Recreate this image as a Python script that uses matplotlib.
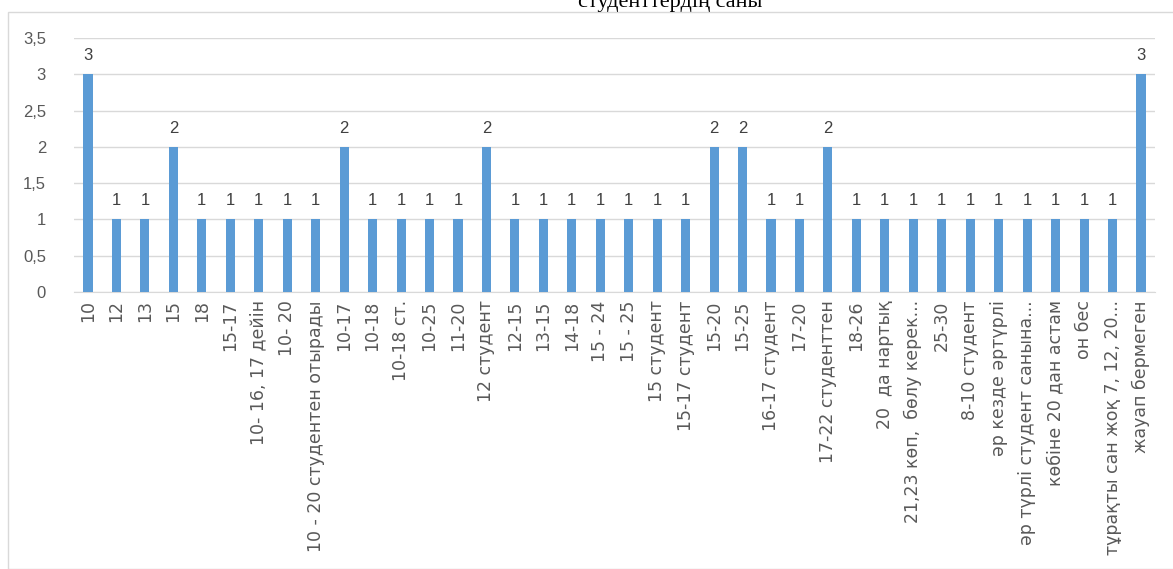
import matplotlib
matplotlib.use("Agg")
import matplotlib.pyplot as plt
from matplotlib.patches import Rectangle

categories = [
    "10", "12", "13", "15", "18", "15-17", "10- 16, 17 дейін", "10- 20",
    "10 - 20 студентен отырады", "10-17", "10-18", "10-18 ст.", "10-25", "11-20",
    "12 студент", "12-15", "13-15", "14-18", "15 - 24", "15 - 25", "15 студент",
    "15-17 студент", "15-20", "15-25", "16-17 студент", "17-20", "17-22 студенттен",
    "18-26", "20  да нартық", "21,23 көп,  бөлу керек...", "25-30", "8-10 студент",
    "әр кезде әртүрлі", "әр түрлі студент санына...", "көбіне 20 дан астам",
    "он бес", "тұрақты сан жоқ 7, 12, 20...", "жауап бермеген",
]
values = [3, 1, 1, 2, 1, 1, 1, 1, 1, 2, 1, 1, 1, 1, 2, 1, 1, 1, 1, 1, 1, 1,
          2, 2, 1, 1, 2, 1, 1, 1, 1, 1, 1, 1, 1, 1, 1, 3]
yticks = [0, 0.5, 1, 1.5, 2, 2.5, 3, 3.5]
ytick_labels = ["0", "0,5", "1", "1,5", "2", "2,5", "3", "3,5"]
title = "студенттердің саны"

plt.rcParams['font.family'] = ['Liberation Sans', 'DejaVu Sans']

W, H = 1173, 569
fig = plt.figure(figsize=(W / 100, H / 100), dpi=100)
fig.patches.append(Rectangle((8 / W, 0), 1.0, 1 - 12 / H, transform=fig.transFigure,
                             fill=False, edgecolor="#D9D9D9", linewidth=1.0))

ax = fig.add_axes([73.8 / W, 1 - 292 / H, (1155.2 - 73.8) / W, (292 - 38) / H])
x = list(range(len(categories)))
ax.bar(x, values, width=0.32, color="#5B9BD5", zorder=3)
ax.set_xlim(-0.5, len(categories) - 0.5)
ax.set_ylim(0, 3.5)
ax.set_yticks(yticks)
ax.set_yticklabels(ytick_labels, fontsize=12, color="#595959")
ax.set_xticks(x)
ax.set_xticklabels(categories, rotation=90, fontsize=12.5, color="#595959",
                   family=["DejaVu Sans"])
ax.tick_params(axis="both", length=0, pad=6)
ax.tick_params(axis="y", pad=20)
ax.grid(axis="y", color="#D9D9D9", linewidth=1, zorder=0)
for s in ["top", "right", "left"]:
    ax.spines[s].set_visible(False)
ax.spines["bottom"].set_color("#D9D9D9")
for xi, v in zip(x, values):
    ax.annotate(str(v), (xi, v), xytext=(0, 8), textcoords="offset points",
                ha="center", va="bottom", fontsize=12, color="#404040")

fig.text(0.571, 1 - 3 / H, title, ha="center", va="center", fontsize=16,
         family=["Liberation Serif", "DejaVu Serif"], color="black")

fig.savefig("out.png", dpi=100)
